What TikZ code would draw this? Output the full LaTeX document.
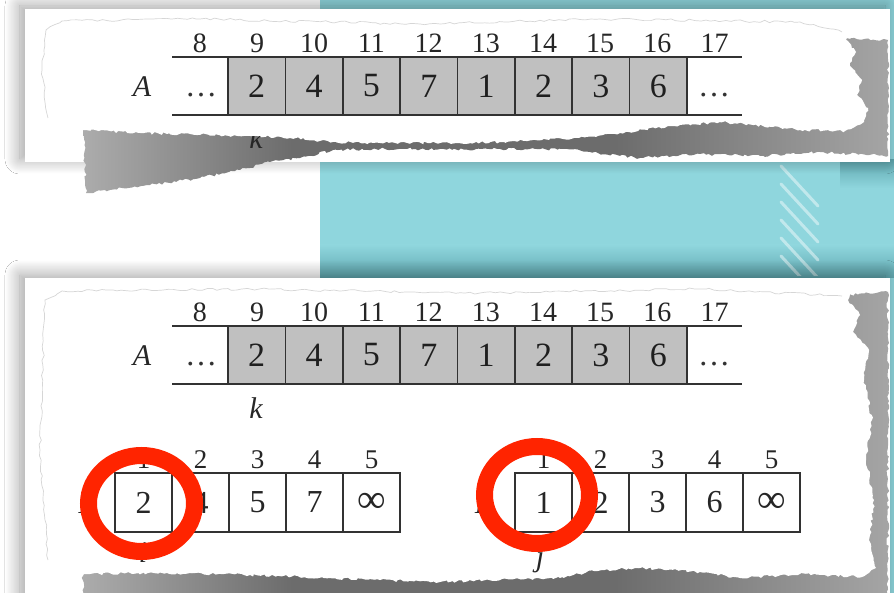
\documentclass[tikz,border=0pt]{standalone}
\usepackage{fontspec}
\setmainfont{Liberation Serif}
\usetikzlibrary{shadows.blur,decorations.pathmorphing,shapes.geometric}

\definecolor{teal1}{RGB}{143,214,221}
\definecolor{teal2}{RGB}{96,168,176}
\definecolor{cellgray}{RGB}{192,192,192}
\definecolor{linegray}{RGB}{50,50,50}
\definecolor{ringred}{RGB}{255,36,0}
\definecolor{sha}{RGB}{172,172,172}
\definecolor{shb}{RGB}{108,108,108}
\definecolor{shc}{RGB}{165,165,165}

\pgfdeclarehorizontalshading{tornshade}{100bp}{color(0bp)=(sha); color(25bp)=(sha); color(38bp)=(shb); color(58bp)=(shb); color(75bp)=(shc); color(100bp)=(shc)}

\newcommand\infsym{{\fontsize{40}{40}\selectfont ∞}}

\tikzset{
  torn/.style={decorate, decoration={random steps, segment length=3pt, amplitude=1.4pt}},
  faint/.style={draw=black!16, line width=0.7pt, decorate, decoration={random steps, segment length=5pt, amplitude=1.2pt}},
  sheet/.style={fill=white, blur shadow={shadow xshift=-5pt, shadow yshift=3pt, shadow blur radius=15pt, shadow blur steps=20, shadow opacity=38}},
  cellA/.style={draw=linegray, line width=1.6pt, fill=cellgray, minimum width=57.375pt, minimum height=58pt, inner sep=0pt, font=\fontsize{34}{34}\selectfont, text=black!88},
  cellB/.style={draw=linegray, line width=1.4pt, fill=white, minimum width=57pt, minimum height=59pt, inner sep=0pt, font=\fontsize{32}{32}\selectfont, text=black!85},
  idx/.style={font=\fontsize{28}{28}\selectfont, inner sep=0pt, text=black!85},
  idxs/.style={font=\fontsize{27}{27}\selectfont, inner sep=0pt, text=black!85},
  lab/.style={font=\itshape\fontsize{30}{30}\selectfont, inner sep=0pt, text=black!85, anchor=base},
  dots/.style={font=\fontsize{32}{32}\selectfont, inner sep=0pt, text=black!80, anchor=base},
  hline/.style={draw=linegray, line width=1.6pt},
  ring/.style={draw=ringred, line width=17pt, ellipse, inner sep=0pt},
}

\begin{document}
\begin{tikzpicture}[x=1pt,y=-1pt]
\useasboundingbox (0,0) rectangle (894,593);
% background
\fill[white] (0,0) rectangle (894,593);
\fill[teal1] (320,0) rectangle (894,278);
\fill[teal1] (886,270) rectangle (894,593);
\fill[top color=teal1, bottom color=teal2] (320,245) rectangle (894,278);
\fill[top color=teal2, bottom color=teal1] (840,160) rectangle (894,188);
\begin{scope}
  \clip (760,160) rectangle (850,276);
  \foreach \y in {166,184,202,220,238,256}
    \draw[white, opacity=0.45, line width=3pt, line cap=round] (781,\y) -- (818,{\y+40});
\end{scope}

% ---------- top sheet ----------
\fill[sheet] (25,9) rectangle (890,162);
\shade[shading=tornshade, torn] (83,118) -- (842,118) -- (846,38) -- (888,40) -- (888,156)
  -- (820,152) -- (760,156) -- (700,154) -- (640,158) -- (590,152) -- (563,149) -- (500,149)
  -- (440,149) -- (380,149) -- (333,150) -- (300,158) -- (270,162) -- (240,170) -- (200,178)
  -- (150,185) -- (110,190) -- (86,193) -- cycle;
\fill[white, torn] (28,12) -- (846,12) -- (846,40) -- (856,52) -- (850,66) -- (862,80) -- (857,95)
  -- (868,108) -- (864,122) -- (845,131) -- (800,130) -- (773,127) -- (720,122) -- (673,126)
  -- (620,133) -- (563,139) -- (500,142) -- (440,143) -- (380,143) -- (333,142) -- (290,138)
  -- (250,136) -- (167,134) -- (83,130) -- (28,128) -- cycle;
\draw[faint] (48,118) -- (42,70) -- (46,30) -- (62,21) -- (200,19) -- (420,24) -- (600,19) -- (800,22) -- (842,32);

% ---------- bottom sheet ----------
\fill[sheet] (25,278) rectangle (890,600);
\shade[shading=tornshade, torn] (83,555) -- (845,555) -- (846,295) -- (888,292) -- (888,600) -- (83,600) -- cycle;
\fill[white, torn] (28,281) -- (852,281) -- (848,300) -- (860,315) -- (853,332) -- (868,348)
  -- (864,380) -- (872,420) -- (866,460) -- (874,500) -- (869,540) -- (876,568) -- (862,577)
  -- (800,574) -- (740,578) -- (700,572) -- (640,568) -- (594,571) -- (560,578) -- (500,580)
  -- (440,582) -- (380,580) -- (330,578) -- (250,575) -- (167,573) -- (83,574) -- (28,568) -- cycle;
\draw[faint] (48,560) -- (40,450) -- (45,300) -- (62,291) -- (250,289) -- (480,293) -- (700,289) -- (842,296);

% ---------- big arrays ----------
\foreach \s/\dy in {t/0,b/269}{
  \node[lab] (\s-A) at (142,{97+\dy}) {A};
  \foreach \v [count=\j from 0] in {2,4,5,7,1,2,3,6}
    \node[cellA] (\s-c\j) at ({256.7+57.375*\j},{86+\dy}) {\v};
  \foreach \n [count=\j from 0] in {8,...,17}
    \node[idx] (\s-i\n) at ({199.8+57.2*\j},{43+\dy}) {\n};
  \node[dots] (\s-dl) at (201,{97+\dy}) {\ldots};
  \node[dots] (\s-dr) at (714,{97+\dy}) {\ldots};
  \coordinate (\s-tl) at (172,{57+\dy});
  \coordinate (\s-tr) at (742,{57+\dy});
  \coordinate (\s-bl) at (172,{115+\dy});
  \coordinate (\s-br) at (742,{115+\dy});
  \draw[hline] (\s-tl) -- (\s-tr);
  \draw[hline] (\s-bl) -- (\s-br);
}
\begin{scope}
  \clip (235,137) rectangle (280,152);
  \node[lab] (t-k) at (256,149) {k};
\end{scope}
\node[lab] (b-k) at (256,418) {k};

% ---------- small arrays ----------
\node[lab] (Llab) at (87,513) {L};
\node[lab] (Rlab) at (484,513) {R};
\foreach \v [count=\j from 0] in {2,4,5,7,\infsym}
  \node[cellB] (L\j) at ({143.5+57*\j},502.5) {\v};
\foreach \v [count=\j from 0] in {1,2,3,6,\infsym}
  \node[cellB] (R\j) at ({543.5+57*\j},502.5) {\v};
\foreach \n [count=\j from 0] in {1,...,5}{
  \node[idxs] (Li\n) at ({143.5+57*\j},460) {\n};
  \node[idxs] (Ri\n) at ({543.5+57*\j},460) {\n};
}
\node[lab] (ilab) at (143,562) {i};
\node[lab] (jlab) at (540,566) {j};

% ---------- rings ----------
\node[ring, minimum width=106pt, minimum height=96pt] (ringL) at (141.5,503.5) {};
\node[ring, minimum width=105pt, minimum height=97pt] (ringR) at (537,495) {};
\end{tikzpicture}
\end{document}
